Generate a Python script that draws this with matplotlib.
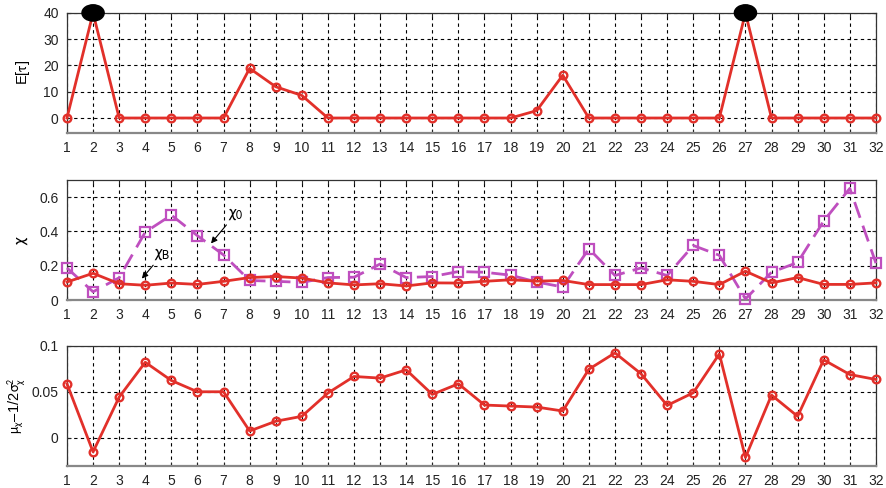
import numpy as np
import matplotlib
matplotlib.use("Agg")
import matplotlib.pyplot as plt
from matplotlib.patches import Ellipse

plt.rcParams['font.family'] = ['Liberation Sans', 'DejaVu Sans']
plt.rcParams['mathtext.fontset'] = 'stixsans'
plt.rcParams['mathtext.default'] = 'rm'

idx = np.arange(1, 33)

# expected value per index (2 and 27 are off the scale, drawn at the top)
e_tau = [0, 40, 0, 0, 0, 0, 0, 18.9, 11.9, 8.6, 0, 0, 0, 0, 0, 0,
         0, 0, 2.8, 16.3, 0, 0, 0, 0, 0, 0, 40, 0, 0, 0, 0, 0]
e_tau_off = [2, 27]

chi_b = [0.105, 0.156, 0.095, 0.086, 0.099, 0.091, 0.109, 0.131, 0.137, 0.128,
         0.100, 0.088, 0.095, 0.082, 0.100, 0.099, 0.109, 0.118, 0.110, 0.114,
         0.090, 0.090, 0.090, 0.118, 0.109, 0.090, 0.168, 0.100, 0.131, 0.091,
         0.091, 0.100]
chi_0 = [0.187, 0.048, 0.130, 0.396, 0.495, 0.375, 0.263, 0.114, 0.109, 0.103,
         0.131, 0.133, 0.210, 0.131, 0.137, 0.166, 0.162, 0.145, 0.105, 0.076,
         0.299, 0.143, 0.187, 0.143, 0.318, 0.261, 0.006, 0.162, 0.219, 0.461,
         0.651, 0.215]

mu_sig = [0.0587, -0.0156, 0.0442, 0.0822, 0.0623, 0.0500, 0.0500, 0.0072,
          0.0178, 0.0232, 0.0486, 0.0667, 0.0649, 0.0739, 0.0471, 0.0587,
          0.0355, 0.0344, 0.0333, 0.0290, 0.0746, 0.0924, 0.0696, 0.0351,
          0.0489, 0.0913, -0.0217, 0.0464, 0.0232, 0.0848, 0.0688, 0.0634]

RED = '#e2302a'
MAG = '#bf4fbf'

fig = plt.figure(figsize=(8.87, 4.88), dpi=100)
left, width, height = 0.0755, 0.912, 0.246
ax1 = fig.add_axes([left, 0.7275, width, height])
ax2 = fig.add_axes([left, 0.3852, width, height])
ax3 = fig.add_axes([left, 0.0451, width, height])


def style(ax, ylim, yticks):
    ax.set_xlim(1, 32)
    ax.set_ylim(*ylim)
    ax.set_xticks(idx)
    ax.set_yticks(yticks)
    ax.tick_params(direction='in', length=3, top=True, right=True,
                   labelsize=10, colors='#222222', pad=6)
    ax.grid(True, color='black', linestyle=(0, (3, 3)), linewidth=0.8)
    for s in ax.spines.values():
        s.set_color('#333333')
        s.set_linewidth(0.9)
    ax.spines['bottom'].set_color('#888888')
    ax.spines['bottom'].set_linewidth(1.6)


line_kw = dict(color=RED, lw=2.0, marker='o', ms=5.5, mfc='none',
               mec=RED, mew=1.7, zorder=3, clip_on=False)

# top: E[tau]
style(ax1, (-5.7, 40), [0, 10, 20, 30, 40])
ax1.plot(idx, e_tau, **line_kw)
for x in e_tau_off:
    ax1.add_patch(Ellipse((x, 40), 0.85, 6.2, color='black', zorder=5,
                          clip_on=False))
ax1.set_ylabel(r'E[$\tau$]', fontsize=10.5)
ax1.yaxis.set_label_coords(-0.043, 0.5)

# middle: chi
style(ax2, (0, 0.7), [0, 0.2, 0.4, 0.6])
ax2.set_yticklabels(['0', '0.2', '0.4', '0.6'])
ax2.plot(idx, chi_0, color=MAG, lw=2.0, linestyle=(0, (6, 3)), marker='s',
         ms=6.5, mfc='none', mec=MAG, mew=1.6, zorder=3, clip_on=False)
ax2.plot(idx, chi_b, **line_kw)
ax2.set_ylabel(r'$\chi$', fontsize=12.5)
ax2.yaxis.set_label_coords(-0.046, 0.5)
arr = dict(arrowstyle='-|>', color='black', lw=0.8, mutation_scale=9,
           shrinkA=0, shrinkB=0)
ax2.annotate(r'$\chi_0$', xy=(6.52, 0.33), xytext=(7.45, 0.50),
             fontsize=12.5, ha='center', va='center', arrowprops=arr)
ax2.annotate(r'$\chi_B$', xy=(3.87, 0.125), xytext=(4.65, 0.265),
             fontsize=12.5, ha='center', va='center', arrowprops=arr)

# bottom: mu - 1/2 sigma^2
style(ax3, (-0.031, 0.1), [0, 0.05, 0.1])
ax3.set_yticklabels(['0', '0.05', '0.1'])
ax3.plot(idx, mu_sig, **line_kw)
ax3.set_ylabel(r'$\mu_\chi$$-$1/2$\sigma^2_\chi$', fontsize=10.5)
ax3.yaxis.set_label_coords(-0.05, 0.5)

fig.savefig('out.png', dpi=100)
